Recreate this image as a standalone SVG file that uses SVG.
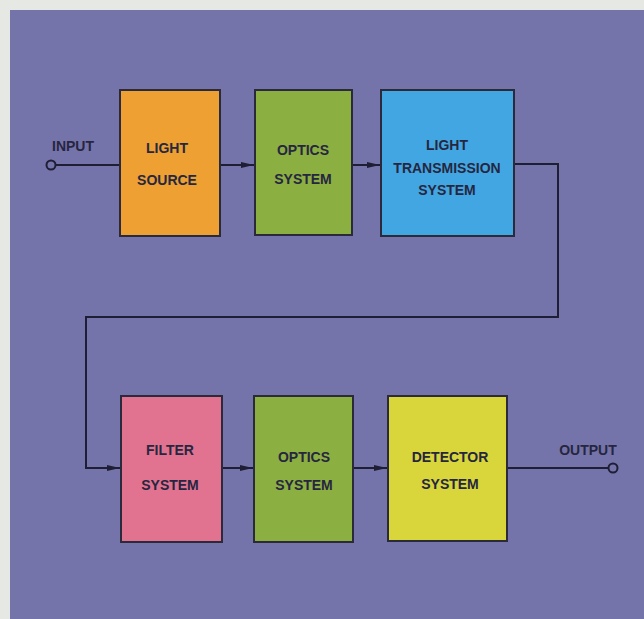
<svg xmlns="http://www.w3.org/2000/svg" width="644" height="619" viewBox="0 0 644 619">
<style>
.box{stroke:#2a2a3a;stroke-width:2}
.lbl{font-family:"Liberation Sans",Arial,sans-serif;font-weight:bold;font-size:14px;fill:#262640;text-anchor:middle}
.wire{fill:none;stroke:#1e1e35;stroke-width:2}
.term{fill:none;stroke:#1e1e35;stroke-width:2}
</style>
<defs>
<marker id="arr" viewBox="0 0 13 8" refX="13" refY="4" markerWidth="13" markerHeight="8" markerUnits="userSpaceOnUse" orient="auto">
<path d="M0,1 L13,4 L0,7 z" fill="#1e1e35"/>
</marker>
</defs>
<rect x="0" y="0" width="644" height="619" fill="#e6e8e4"/>
<rect x="10" y="10" width="634" height="609" fill="#7574aa"/>
<g id="connectors">
<line class="wire" x1="56" y1="165" x2="120" y2="165"/>
<circle class="term" cx="51" cy="165" r="4.5"/>
<line class="wire" x1="220" y1="165" x2="254" y2="165" marker-end="url(#arr)"/>
<line class="wire" x1="352" y1="165" x2="380" y2="165" marker-end="url(#arr)"/>
<polyline class="wire" points="514,164 558,164 558,317 86,317 86,468 120,468" marker-end="url(#arr)"/>
<line class="wire" x1="222" y1="468" x2="253" y2="468" marker-end="url(#arr)"/>
<line class="wire" x1="353" y1="468" x2="387" y2="468" marker-end="url(#arr)"/>
<line class="wire" x1="507" y1="468" x2="609" y2="468"/>
<circle class="term" cx="613" cy="468" r="4.5"/>
</g>
<g id="input"><text class="lbl" x="73" y="151">INPUT</text></g>
<g id="output"><text class="lbl" x="588" y="455">OUTPUT</text></g>
<g id="light-source">
<rect class="box" x="120" y="90" width="100" height="146" fill="#eea032"/>
<text class="lbl" x="167" y="153">LIGHT</text>
<text class="lbl" x="167" y="185">SOURCE</text>
</g>
<g id="optics-1">
<rect class="box" x="255" y="90" width="97" height="145" fill="#8caf42"/>
<text class="lbl" x="303" y="155">OPTICS</text>
<text class="lbl" x="303" y="184">SYSTEM</text>
</g>
<g id="light-transmission">
<rect class="box" x="381" y="90" width="133" height="146" fill="#42a6e2"/>
<text class="lbl" x="447" y="150">LIGHT</text>
<text class="lbl" x="447" y="173">TRANSMISSION</text>
<text class="lbl" x="447" y="195">SYSTEM</text>
</g>
<g id="filter">
<rect class="box" x="121" y="396" width="101" height="146" fill="#e27390"/>
<text class="lbl" x="170" y="455">FILTER</text>
<text class="lbl" x="170" y="490">SYSTEM</text>
</g>
<g id="optics-2">
<rect class="box" x="254" y="396" width="99" height="146" fill="#8caf42"/>
<text class="lbl" x="304" y="462">OPTICS</text>
<text class="lbl" x="304" y="490">SYSTEM</text>
</g>
<g id="detector">
<rect class="box" x="388" y="396" width="119" height="145" fill="#d8d63a"/>
<text class="lbl" x="450" y="462">DETECTOR</text>
<text class="lbl" x="450" y="489">SYSTEM</text>
</g>
</svg>
